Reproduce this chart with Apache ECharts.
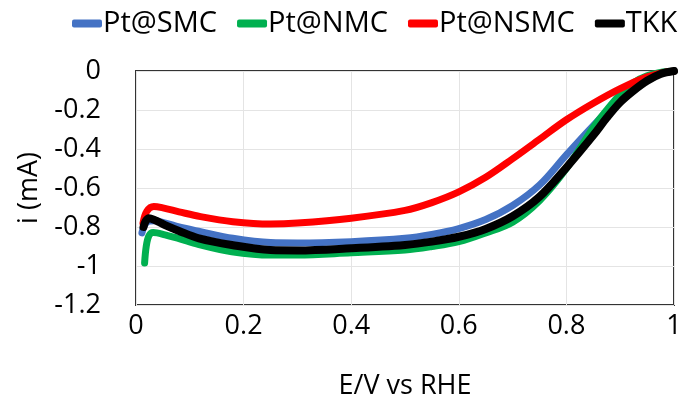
<!DOCTYPE html>
<html>
<head>
<meta charset="utf-8">
<script src="https://cdn.jsdelivr.net/npm/echarts@6/dist/echarts.min.js"></script>
<style>
  html, body { margin: 0; padding: 0; background: #fff; }
  #chart { width: 682px; height: 408px; }
</style>
</head>
<body>
<div id="chart"></div>
<script>
// Linear sweep voltammograms (current vs potential) for four catalysts
const seriesNames = ['Pt@SMC', 'Pt@NMC', 'Pt@NSMC', 'TKK'];
const seriesColors = ['#4472C4', '#00B050', '#FF0000', '#000000'];

// [E (V vs RHE), i (mA)]
const ptSMC = [
  [0.011, -0.83], [0.016, -0.79], [0.024, -0.77], [0.035, -0.768], [0.055, -0.78],
  [0.08, -0.80], [0.12, -0.824], [0.18, -0.858], [0.25, -0.88], [0.3, -0.882],
  [0.4, -0.875], [0.5, -0.858], [0.55, -0.838], [0.6, -0.808], [0.65, -0.762],
  [0.7, -0.69], [0.75, -0.585], [0.8, -0.43], [0.85, -0.28], [0.9, -0.14],
  [0.95, -0.04], [0.98, -0.01], [1.0, 0]
];
const ptNMC = [
  [0.016, -0.985], [0.019, -0.90], [0.024, -0.845], [0.032, -0.828], [0.054, -0.84],
  [0.08, -0.86], [0.117, -0.89], [0.178, -0.927], [0.25, -0.944], [0.3, -0.944],
  [0.4, -0.932], [0.5, -0.918], [0.55, -0.90], [0.6, -0.875], [0.65, -0.83],
  [0.7, -0.775], [0.75, -0.665], [0.8, -0.50], [0.85, -0.29], [0.875, -0.20],
  [0.9, -0.12], [0.925, -0.06], [0.95, -0.025], [0.98, -0.005], [1.0, 0]
];
const ptNSMC = [
  [0.013, -0.78], [0.02, -0.72], [0.033, -0.695], [0.05, -0.702], [0.08, -0.722],
  [0.12, -0.747], [0.18, -0.773], [0.25, -0.785], [0.3, -0.78], [0.4, -0.755],
  [0.5, -0.715], [0.55, -0.675], [0.6, -0.62], [0.65, -0.545], [0.7, -0.45],
  [0.75, -0.35], [0.8, -0.25], [0.85, -0.165], [0.9, -0.09], [0.95, -0.03],
  [0.98, -0.008], [1.0, 0]
];
const tkk = [
  [0.014, -0.80], [0.018, -0.77], [0.024, -0.755], [0.035, -0.765], [0.054, -0.79],
  [0.08, -0.82], [0.117, -0.858], [0.178, -0.892], [0.25, -0.918], [0.3, -0.92],
  [0.4, -0.909], [0.5, -0.892], [0.55, -0.875], [0.6, -0.85], [0.65, -0.81],
  [0.7, -0.745], [0.75, -0.645], [0.8, -0.495], [0.85, -0.33], [0.875, -0.24],
  [0.9, -0.16], [0.925, -0.10], [0.95, -0.05], [0.975, -0.015], [1.0, 0]
];
const seriesData = [ptSMC, ptNMC, ptNSMC, tkk];

const xTicks = { min: 0, max: 1, step: 0.2 };
const yTicks = { min: -1.2, max: 0, step: 0.2 };

const FONT = '"Open Sans", sans-serif';
const fmt = v => { const n = Number(v.toFixed(1)); return (n === 0 ? 0 : n).toString(); };

const chart = echarts.init(document.getElementById('chart'), null, { renderer: 'canvas' });
chart.setOption({
  animation: false,
  backgroundColor: '#fff',
  legend: {
    data: seriesNames,
    left: 67,
    top: 4,
    width: 614,
    itemWidth: 30,
    itemHeight: 8,
    itemGap: 20,
    icon: 'roundRect',
    textStyle: { fontFamily: FONT, fontSize: 29, color: '#000', padding: [0, 0, 0, -4] }
  },
  grid: {
    left: 136, right: 8, top: 71, bottom: 103,
    outerBoundsMode: 'none',
    containLabel: false,
    show: true, borderColor: '#333', borderWidth: 2, backgroundColor: 'transparent'
  },
  xAxis: {
    type: 'value',
    min: xTicks.min, max: xTicks.max, interval: xTicks.step,
    name: 'E/V vs RHE',
    nameLocation: 'middle',
    nameGap: 68,
    nameTextStyle: { fontFamily: FONT, fontSize: 27, color: '#000' },
    axisLine: { show: false },
    axisTick: { show: false },
    axisLabel: { fontFamily: FONT, fontSize: 27, color: '#000', margin: 8, formatter: fmt },
    splitLine: { show: true, lineStyle: { color: '#e4e4e4', width: 1 } }
  },
  yAxis: {
    type: 'value',
    min: yTicks.min, max: yTicks.max, interval: yTicks.step,
    name: 'i (mA)',
    nameLocation: 'middle',
    nameGap: 93,
    nameTextStyle: { fontFamily: FONT, fontSize: 27, color: '#000' },
    axisLine: { show: false },
    axisTick: { show: false },
    axisLabel: { fontFamily: FONT, fontSize: 27, color: '#000', margin: 35, formatter: fmt },
    splitLine: { show: true, lineStyle: { color: '#e4e4e4', width: 1 } }
  },
  series: seriesNames.map((name, i) => ({
    name,
    type: 'line',
    data: seriesData[i],
    smooth: 0.35,
    showSymbol: false,
    symbol: 'none',
    color: seriesColors[i],
    lineStyle: { color: seriesColors[i], width: i === 3 ? 8 : 7, cap: 'round', join: 'round' },
    z: 2 + i
  }))
});
</script>
</body>
</html>
